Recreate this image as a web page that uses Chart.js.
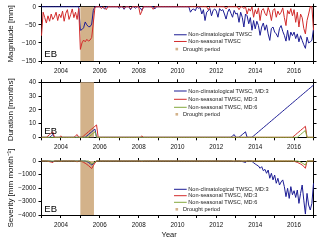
<!DOCTYPE html>
<html>
<head>
<meta charset="utf-8">
<script src="https://cdn.jsdelivr.net/npm/chart.js"></script>
<style>
  html, body { margin:0; padding:0; background:#fff; }
  body { width:320px; height:240px; position:relative; overflow:hidden; }
  canvas { position:absolute; left:0; }
</style>
</head>
<body>
<canvas id="c1" width="320" height="80" style="top:0px"></canvas>
<canvas id="c2" width="320" height="80" style="top:72px"></canvas>
<canvas id="c3" width="320" height="96" style="top:144px"></canvas>
<script>
// ---------------- data (monthly, Jan 2003 .. Jan 2017) ----------------
const startYear = 2003;
const yearTicks = [2003,2004,2005,2006,2007,2008,2009,2010,2011,2012,2013,2014,2015,2016,2017];
const magTicks = [0,-50,-100,-150];
const durTicks = [0,10,20,30,40];
const sevTicks = [0,-1000,-2000,-3000,-4000];
const droughtPeriod = [2005.0, 2005.7];
const regionLabel = 'EB';
const xTitle = 'Year';
const magTitle = 'Magnitude [mm]';
const durTitle = 'Duration [months]';
const sevTitle = 'Severity [mm month\u207B\u00B9]';
const magLabels = ['Non-climatological TWSC', 'Non-seasonal TWSC', 'Drought period'];
const durLabels = ['Non-climatological TWSC, MD:3', 'Non-seasonal TWSC, MD:3', 'Non-seasonal TWSC, MD:6', 'Drought period'];

const magNonClim = [
  0,0,0,0,0,0,0,0,0,0,0,0,
  0,0,0,0,0,0,0,0,0,0,0,0,
  -65,-63,-58,-42,-50,-55,-55,-48,-10,0,0,0,
  0,0,-2,-6,0,0,0,0,0,0,0,0,
  -4,0,0,-7,0,0,0,-8,0,0,-4,0,
  0,-3,-10,0,0,0,0,0,0,0,-6,0,
  0,0,0,0,0,0,0,0,0,0,0,0,
  0,0,0,0,0,0,0,0,-15,-8,-6,-11,
  0,-4,-2,-20,-8,-38,-15,-11,-5,-25,-10,-6,
  -12,-29,-5,-11,-8,-20,-34,-15,-6,-18,-29,-10,
  -20,-18,-43,-15,-29,-56,-20,-25,-47,-30,-65,-38,
  -61,-40,-52,-79,-56,-45,-65,-50,-75,-93,-60,-56,
  -70,-75,-84,-60,-52,-68,-79,-95,-65,-93,-70,-80,
  -70,-88,-75,-97,-80,-93,-105,-115,-84,-100,-97,-93,
  -61
];
const magNonSeas = [
  -80,-15,-30,-45,-25,-40,-20,-35,-28,-15,-38,-20,
  -30,-12,-40,-18,-8,-35,-22,-6,-30,-15,-35,-5,
  -118,-100,-92,-97,-90,-95,-92,-85,-45,-2,0,0,
  0,-5,0,-3,-8,0,0,0,0,0,0,0,
  0,0,0,-4,0,0,0,-5,0,0,0,0,
  0,-22,-12,0,0,0,0,0,0,-7,0,0,
  0,0,0,0,0,0,0,0,0,0,0,0,
  0,0,0,0,0,0,0,0,0,0,0,0,
  0,0,0,0,0,0,0,-8,0,0,0,0,
  0,0,0,0,0,0,-6,0,0,0,0,0,
  0,0,-8,0,0,-5,0,-20,-5,-12,0,-29,
  -8,-20,-3,-38,-10,-5,-18,-25,-2,-15,-38,-10,
  -5,-29,-12,-22,-15,-3,-30,-52,-10,-20,-5,-25,
  -8,-43,-15,-56,-20,-30,-60,-75,-38,-20,0,0,
  -65
];
const durNonClimMD3 = [
  0,0,0,0,0,0,1,2,0,0,0,0,
  0,0,0,0,0,0,0,0,0,0,0,0,
  0,0,0,0,1,2,3,4,5,6,0,0,
  0,0,0,0,0,0,0,0,0,0,0,0,
  0,0,0,0,0,0,0,0,0,0,0,0,
  0,0,0,0,0,0,0,0,0,0,0,0,
  0,0,0,0,0,0,0,0,0,0,0,0,
  0,0,0,0,0,0,0,0,0,0,0,0,
  0,0,0,0,0,0,0,0,0,0,0,0,
  0,0,0,0,0,0,0,0,0,0,1,2,
  0,0,0,1,2,3,4,0,0,0,0,1,
  2,3,4,5,6,7,8,9,10,11,12,13,
  14,15,16,17,18,19,20,21,22,23,24,25,
  26,27,28,29,30,31,32,33,34,35,36,37,
  38
];
const durNonSeasMD3 = [
  0,0,0,0,1,2,3,4,0,0,0,0,
  1,0,0,0,0,0,0,0,0,1,2,0,
  0,0,1,2,3,4,5,6,7,8,9,0,
  0,0,0,0,0,0,0,0,0,0,0,0,
  0,0,0,0,0,0,0,0,0,0,0,0,
  0,0,1,0,0,0,0,0,0,0,0,0,
  0,0,0,0,0,0,0,0,0,0,0,0,
  0,0,0,0,0,0,0,0,0,0,0,0,
  0,0,0,0,0,0,0,0,0,0,0,0,
  0,0,0,0,0,0,0,0,0,0,0,0,
  0,0,0,0,0,0,0,0,0,0,0,0,
  0,0,0,0,0,0,0,0,0,0,0,0,
  0,0,0,0,0,0,0,0,0,0,0,0,
  1,2,3,4,5,6,7,8,0,0,0,0,
  0
];
const durNonSeasMD6 = [
  0,0,0,0,0,0,0,0,0,0,0,0,
  0,0,0,0,0,0,0,0,0,0,0,0,
  0,0,0,0,0,0,1,2,3,4,0,0,
  0,0,0,0,0,0,0,0,0,0,0,0,
  0,0,0,0,0,0,0,0,0,0,0,0,
  0,0,0,0,0,0,0,0,0,0,0,0,
  0,0,0,0,0,0,0,0,0,0,0,0,
  0,0,0,0,0,0,0,0,0,0,0,0,
  0,0,0,0,0,0,0,0,0,0,0,0,
  0,0,0,0,0,0,0,0,0,0,0,0,
  0,0,0,0,0,0,0,0,0,0,0,0,
  0,0,0,0,0,0,0,0,0,0,0,0,
  0,0,0,0,0,0,0,0,0,0,0,0,
  0,0,0,1,2,3,4,5,0,0,0,0,
  0
];
const sevNonClimMD3 = [
  0,0,0,0,0,0,-20,-50,0,0,0,0,
  0,0,0,0,0,0,0,0,0,0,0,0,
  0,0,0,0,-40,-100,-180,-300,-200,-90,0,0,
  0,0,0,0,0,0,0,0,0,0,0,0,
  0,0,0,0,0,0,0,0,0,0,0,0,
  0,0,0,0,0,0,0,0,0,0,0,0,
  0,0,0,0,0,0,0,0,0,0,0,0,
  0,0,0,0,0,0,0,0,0,0,0,0,
  0,0,0,0,0,0,0,0,0,0,0,0,
  0,0,0,0,0,0,0,0,0,0,-20,-50,
  0,0,0,-15,-40,-70,-110,0,0,0,-30,-130,
  -220,-300,-370,-540,-420,-720,-620,-910,-670,-1280,-910,-1400,
  -1040,-1650,-1280,-1780,-1550,-1400,-1900,-2640,-2020,-2770,-1900,-2500,
  -2200,-2700,-2150,-3140,-2400,-1780,-2900,-3930,-2400,-3260,-3630,-3140,
  -1650
];
const sevNonSeasMD3 = [
  0,0,0,0,-20,-50,-80,-120,0,0,0,0,
  -30,0,0,0,0,0,0,0,0,-20,-60,0,
  0,-40,-100,-170,-250,-340,-450,-560,-350,-150,0,0,
  0,0,0,0,0,0,0,0,0,0,0,0,
  0,0,0,0,0,0,0,0,0,0,0,0,
  0,0,-25,0,0,0,0,0,0,0,0,0,
  0,0,0,0,0,0,0,0,0,0,0,0,
  0,0,0,0,0,0,0,0,0,0,0,0,
  0,0,0,0,0,0,0,0,0,0,0,0,
  0,0,0,0,0,0,0,0,0,0,0,0,
  0,0,0,0,0,0,0,0,0,0,0,0,
  0,0,0,0,0,0,0,0,0,0,0,0,
  0,0,0,0,0,0,0,0,0,0,0,0,
  -20,-60,-100,-160,-220,-300,-400,-540,0,0,0,0,
  0
];
const sevNonSeasMD6 = [
  0,0,0,0,0,0,0,0,0,0,0,0,
  0,0,0,0,0,0,0,0,0,0,0,0,
  0,0,0,0,0,0,-60,-230,-150,-70,0,0,
  0,0,0,0,0,0,0,0,0,0,0,0,
  0,0,0,0,0,0,0,0,0,0,0,0,
  0,0,0,0,0,0,0,0,0,0,0,0,
  0,0,0,0,0,0,0,0,0,0,0,0,
  0,0,0,0,0,0,0,0,0,0,0,0,
  0,0,0,0,0,0,0,0,0,0,0,0,
  0,0,0,0,0,0,0,0,0,0,0,0,
  0,0,0,0,0,0,0,0,0,0,0,0,
  0,0,0,0,0,0,0,0,0,0,0,0,
  0,0,0,0,0,0,0,0,0,0,0,0,
  0,0,0,-30,-80,-150,-220,-300,0,0,0,0,
  0
];

// ---------------- styling ----------------
const FONT = "'Liberation Sans', Arial, Helvetica, sans-serif";
const COL_BLUE = '#1c1c94', COL_RED = '#d22b2b', COL_GREEN = '#84a83c', COL_TAN = '#d3b28a';
const PLOT_LEFT = 41.5, PLOT_RIGHT = 313.5;
const LEG_X0 = 174, LEG_X1 = 186.7, LEG_TX = 188.3;

function monthly(vals) { return vals.map((v, i) => ({ x: startYear + i / 12, y: v })); }
function line(label, vals, color, order) {
  return { label, data: monthly(vals), borderColor: color, backgroundColor: color,
           borderWidth: 1, pointRadius: 0, pointHoverRadius: 0, fill: false,
           tension: 0, order, clip: 3 };
}
const fmt = v => (v < 0 ? '\u2212' + Math.abs(v) : String(v));

const decorCfg = {};
const decor = {
  id: 'decor',
  beforeDatasetsDraw(chart) {
    const { ctx, chartArea: a, scales: { x } } = chart;
    const x0 = x.getPixelForValue(droughtPeriod[0]);
    const x1 = x.getPixelForValue(droughtPeriod[1]);
    ctx.save();
    ctx.fillStyle = COL_TAN;
    ctx.fillRect(x0, a.top, x1 - x0, a.bottom - a.top);
    ctx.restore();
  },
  afterDraw(chart) {
    const cfg = decorCfg[chart.canvas.id];
    const { ctx, chartArea: a } = chart;
    ctx.save();
    ctx.fillStyle = '#000';
    ctx.textAlign = 'left';
    ctx.textBaseline = 'alphabetic';
    ctx.font = '9.5px ' + FONT;
    ctx.fillText(regionLabel, a.left + 2.8, a.bottom - cfg.ebGap);
    ctx.font = '5.6px ' + FONT;
    ctx.textBaseline = 'middle';
    cfg.items.forEach((it, k) => {
      const y = a.top + cfg.rows[k];
      if (it.line) {
        ctx.strokeStyle = it.line; ctx.lineWidth = 1;
        ctx.beginPath(); ctx.moveTo(LEG_X0, y); ctx.lineTo(LEG_X1, y); ctx.stroke();
        ctx.fillStyle = '#222'; ctx.fillText(it.text, LEG_TX, y);
      } else {
        ctx.fillStyle = it.box; ctx.fillRect(175.5, y - 1.3, 2.6, 2.6);
        ctx.fillStyle = '#222'; ctx.fillText(it.text, 183, y);
      }
    });
    if (cfg.year) {
      ctx.font = '7.5px ' + FONT;
      ctx.fillStyle = '#111';
      ctx.textAlign = 'center';
      ctx.fillText(xTitle, 169.2, cfg.yearY);
    }
    ctx.restore();
  }
};

function makeChart(id, cfg) {
  decorCfg[id] = cfg.decor;
  const tickFont = { family: FONT, size: 6.3 };
  const grid = { drawOnChartArea: false, drawTicks: true, tickLength: 3, color: '#000', lineWidth: 1 };
  const border = { display: true, color: '#000', width: 1 };
  const setTicks = arr => s => { s.ticks = arr.slice().sort((p, q) => p - q).map(v => ({ value: v })); };
  const ymin = Math.min(...cfg.yTicks), ymax = Math.max(...cfg.yTicks);
  return new Chart(document.getElementById(id), {
    type: 'line',
    data: { datasets: cfg.datasets },
    options: {
      responsive: false, animation: false, events: [],
      layout: { padding: 0 },
      plugins: { legend: { display: false }, tooltip: { enabled: false } },
      scales: {
        x: { type: 'linear', position: 'bottom', min: yearTicks[0], max: yearTicks[yearTicks.length - 1],
             grid, border, afterBuildTicks: setTicks(yearTicks),
             ticks: { autoSkip: false, maxRotation: 0, minRotation: 0, padding: 3, color: '#111', font: tickFont,
                      callback: v => (v % 2 === 0 ? String(v) : '') },
             afterFit: s => { s.height = cfg.bottomH; } },
        xTop: { type: 'linear', position: 'top', min: yearTicks[0], max: yearTicks[yearTicks.length - 1],
                grid, border, afterBuildTicks: setTicks(yearTicks),
                ticks: { autoSkip: false, maxRotation: 0, minRotation: 0, font: tickFont, callback: () => '' },
                afterFit: s => { s.height = cfg.topH; } },
        y: { type: 'linear', position: 'left', min: ymin, max: ymax, grid, border,
             afterBuildTicks: setTicks(cfg.yTicks),
             ticks: { padding: 2.5, color: '#111', font: tickFont, callback: fmt },
             title: { display: true, text: cfg.title, color: '#111', font: { family: FONT, size: 8 },
                      padding: { top: 5.5, bottom: 0 } },
             afterFit: s => { s.width = PLOT_LEFT; } },
        yRight: { type: 'linear', position: 'right', min: ymin, max: ymax, grid, border,
                  afterBuildTicks: setTicks(cfg.yTicks),
                  ticks: { font: tickFont, callback: () => '' },
                  afterFit: s => { s.width = 320 - PLOT_RIGHT; } }
      }
    },
    plugins: [decor]
  });
}

makeChart('c1', {
  datasets: [ line(magLabels[0], magNonClim, COL_BLUE, 1), line(magLabels[1], magNonSeas, COL_RED, 0) ],
  yTicks: magTicks, title: magTitle, topH: 6, bottomH: 19,
  decor: { ebGap: 4, rows: [28, 34.7, 42.3],
           items: [ { line: COL_BLUE, text: magLabels[0] }, { line: COL_RED, text: magLabels[1] }, { box: COL_TAN, text: magLabels[2] } ] }
});
makeChart('c2', {
  datasets: [ line(durLabels[0], durNonClimMD3, COL_BLUE, 2), line(durLabels[1], durNonSeasMD3, COL_RED, 1),
              line(durLabels[2], durNonSeasMD6, COL_GREEN, 0) ],
  yTicks: durTicks, title: durTitle, topH: 10.3, bottomH: 14.7,
  decor: { ebGap: 3, rows: [8.7, 17, 25, 32],
           items: [ { line: COL_BLUE, text: durLabels[0] }, { line: COL_RED, text: durLabels[1] },
                    { line: COL_GREEN, text: durLabels[2] }, { box: COL_TAN, text: durLabels[3] } ] }
});
makeChart('c3', {
  datasets: [ line(durLabels[0], sevNonClimMD3, COL_BLUE, 2), line(durLabels[1], sevNonSeasMD3, COL_RED, 1),
              line(durLabels[2], sevNonSeasMD6, COL_GREEN, 0) ],
  yTicks: sevTicks, title: sevTitle, topH: 17, bottomH: 25,
  decor: { ebGap: 3, rows: [28.3, 34.7, 41.3, 48.3], year: true, yearY: 90.5,
           items: [ { line: COL_BLUE, text: durLabels[0] }, { line: COL_RED, text: durLabels[1] },
                    { line: COL_GREEN, text: durLabels[2] }, { box: COL_TAN, text: durLabels[3] } ] }
});
</script>
</body>
</html>
